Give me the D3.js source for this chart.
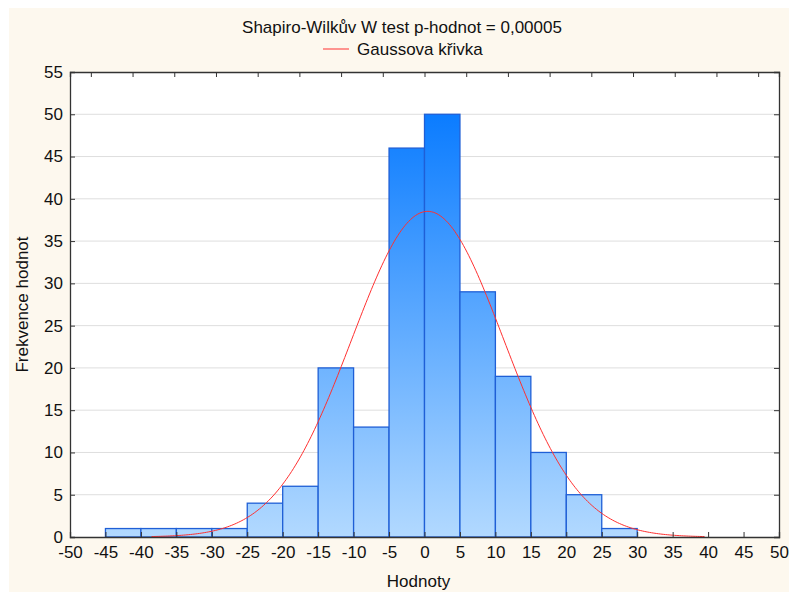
<!DOCTYPE html>
<html>
<head>
<meta charset="utf-8">
<script src="https://cdn.jsdelivr.net/npm/d3@7"></script>
<style>
  html, body { margin: 0; padding: 0; background: #ffffff; }
  svg { display: block; font-family: "Liberation Sans", Arial, sans-serif; }
</style>
</head>
<body>
<svg id="chart" width="792" height="592"></svg>
<script>
// Histogram bins (lower edges, width 5) and their frequencies
const binStarts = [-45, -40, -35, -30, -25, -20, -15, -10, -5, 0, 5, 10, 15, 20, 25];
const binCounts = [1, 1, 1, 1, 4, 6, 20, 13, 46, 50, 29, 19, 10, 5, 1];
const binWidth = 5;

// Fitted normal curve parameters
const fitMean = 0.45;
const fitSd = 10.72;
const curveRange = [-38.5, 39.5];

// Axis ticks
const xTicks = d3.range(-50, 51, 5);
const yTicks = d3.range(0, 56, 5);

const titleText = "Shapiro-Wilkův W test p-hodnot = 0,00005";
const legendText = "Gaussova křivka";
const xLabel = "Hodnoty";
const yLabel = "Frekvence hodnot";

const svg = d3.select("#chart");
const W = 792, H = 592;
const margin = { left: 70, right: 13, top: 72, bottom: 55 };
const plotW = W - margin.left - margin.right;
const plotH = H - margin.top - margin.bottom;
const fontSize = "17px";

const x = d3.scaleLinear().domain([-50, 50]).range([margin.left, margin.left + plotW]);
const y = d3.scaleLinear().domain([0, 55]).range([margin.top + plotH, margin.top]);

// panel background
svg.append("rect").attr("x", 9).attr("y", 8).attr("width", 780).attr("height", 584)
  .attr("fill", "#fdf8ee");

// vertical colour gradient for the bars, tied to the value scale
const defs = svg.append("defs");
const grad = defs.append("linearGradient").attr("id", "barGrad")
  .attr("gradientUnits", "userSpaceOnUse")
  .attr("x1", 0).attr("x2", 0)
  .attr("y1", y(0)).attr("y2", y(50));
grad.append("stop").attr("offset", 0).attr("stop-color", "#b2d9ff");
grad.append("stop").attr("offset", 1).attr("stop-color", "#0b7cff");

// plot area
svg.append("rect").attr("x", margin.left).attr("y", margin.top)
  .attr("width", plotW).attr("height", plotH).attr("fill", "#ffffff");

// horizontal grid
svg.append("g").selectAll("line").data(yTicks.filter(v => v > 0 && v < 55)).join("line")
  .attr("x1", margin.left).attr("x2", margin.left + plotW)
  .attr("y1", d => y(d)).attr("y2", d => y(d))
  .attr("stroke", "#dedede").attr("stroke-width", 1);

// bars
svg.append("g").selectAll("rect").data(binStarts).join("rect")
  .attr("x", (d) => x(d))
  .attr("width", d => x(d + binWidth) - x(d))
  .attr("y", (d, i) => y(binCounts[i]))
  .attr("height", (d, i) => y(0) - y(binCounts[i]))
  .attr("fill", "url(#barGrad)")
  .attr("stroke", "#1f5fd6").attr("stroke-width", 1.3);

// normal curve scaled to counts
const total = d3.sum(binCounts);
const pdf = v => Math.exp(-0.5 * ((v - fitMean) / fitSd) ** 2) / (fitSd * Math.sqrt(2 * Math.PI));
const curvePts = d3.range(curveRange[0], curveRange[1] + 0.001, 0.25)
  .map(v => [v, total * binWidth * pdf(v)]);
svg.append("path").datum(curvePts)
  .attr("d", d3.line().x(d => x(d[0])).y(d => y(d[1])))
  .attr("fill", "none").attr("stroke", "#ff3030").attr("stroke-width", 1);

// axes
const axisColor = "#333";
const plainNum = d => String(d);
const xAxis = svg.append("g").attr("transform", `translate(0,${margin.top + plotH})`)
  .call(d3.axisBottom(x).tickValues(xTicks).tickSize(-5).tickPadding(9).tickFormat(plainNum));
const yAxis = svg.append("g").attr("transform", `translate(${margin.left},0)`)
  .call(d3.axisLeft(y).tickValues(yTicks).tickSize(-5).tickPadding(7).tickFormat(plainNum));
// mirrored ticks on top and right
const topTicks = d3.range(17).map(k => -50 + (100 / 17) * (k + 0.5));
const topAxis = svg.append("g").attr("transform", `translate(0,${margin.top})`)
  .call(d3.axisTop(x).tickValues(topTicks).tickSize(-5).tickFormat(""));
const rightAxis = svg.append("g").attr("transform", `translate(${margin.left + plotW},0)`)
  .call(d3.axisRight(y).tickValues(yTicks).tickSize(-5).tickFormat(""));

[xAxis, yAxis, topAxis, rightAxis].forEach(g => {
  g.select(".domain").attr("stroke", axisColor).attr("stroke-width", 1.3);
  g.selectAll(".tick line").attr("stroke", axisColor);
  g.selectAll("text").attr("fill", "#111").style("font-size", fontSize)
    .style("font-family", "'Liberation Sans', Arial, sans-serif");
});

// titles
svg.append("text").attr("x", 402).attr("y", 33).attr("text-anchor", "middle")
  .style("font-size", fontSize).attr("fill", "#111").text(titleText);

const legG = svg.append("g");
legG.append("line").attr("x1", 323).attr("x2", 349).attr("y1", 49).attr("y2", 49)
  .attr("stroke", "#ff3030").attr("stroke-width", 1);
legG.append("text").attr("x", 357).attr("y", 55)
  .style("font-size", fontSize).attr("fill", "#111").text(legendText);

svg.append("text").attr("x", x(0) - 6).attr("y", 587).attr("text-anchor", "middle")
  .style("font-size", fontSize).attr("fill", "#111").text(xLabel);

svg.append("text").attr("transform", `translate(28,${y(27.5)}) rotate(-90)`)
  .attr("text-anchor", "middle").style("font-size", fontSize).attr("fill", "#111").text(yLabel);
</script>
</body>
</html>
